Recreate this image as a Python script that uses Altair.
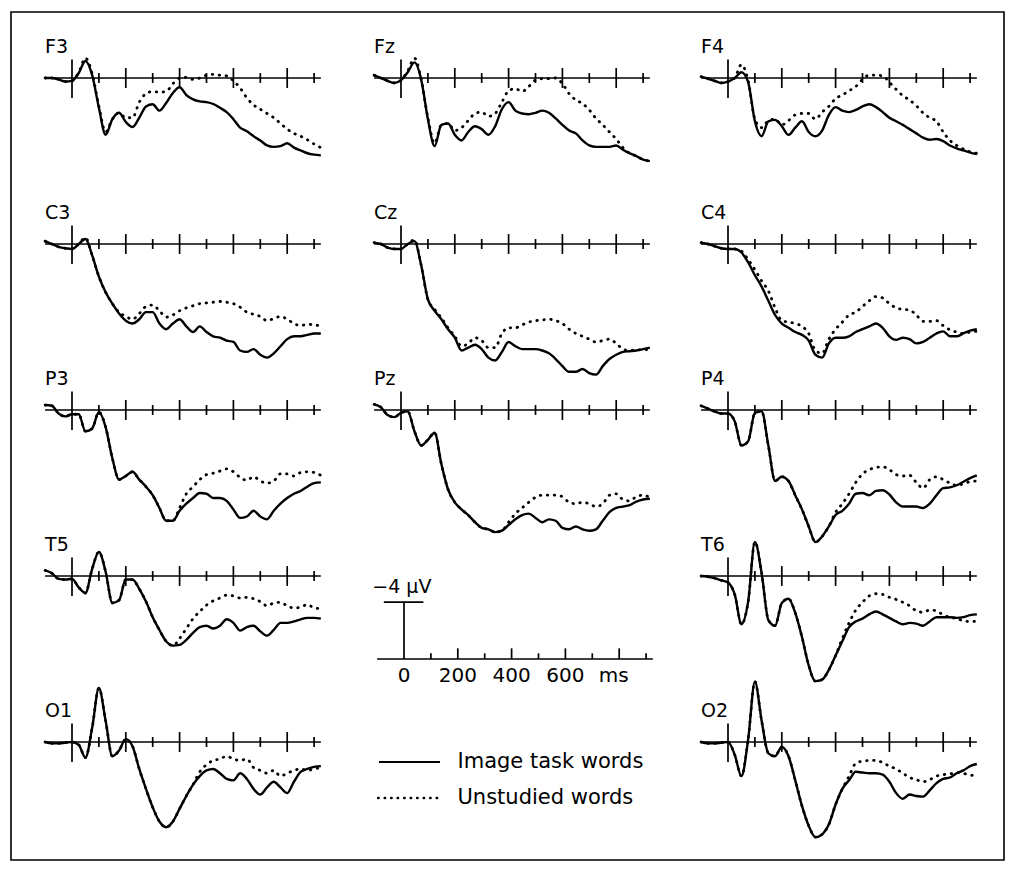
import altair as alt
import pandas as pd

# ---------------- data ----------------
# sampling times in ms, relative to word onset
T = [-100, -75, -50, -25, 0, 25, 50, 75, 100, 125, 150, 175, 200, 225, 250, 275,
     300, 325, 350, 375, 400, 425, 450, 475, 500, 525, 550, 575, 600, 625, 650,
     675, 700, 725, 750, 775, 800, 825, 850, 875, 900, 925]

# amplitude in microvolts (positive = downward, negative = upward, as in the figure)
IMAGE = {
    "F3": [0.0, 0.0, 0.1, 0.25, 0.2, -0.35, -1.2, -0.2, 2.1, 4.0, 2.9, 2.45, 3.1, 3.45, 2.8, 2.0,
           1.85, 2.3, 1.76, 1.05, 0.65, 1.2, 1.5, 1.65, 1.7, 1.83, 2.1, 2.4, 2.9, 3.5, 3.75,
           4.1, 4.4, 4.75, 4.85, 4.8, 4.6, 4.9, 5.1, 5.3, 5.4, 5.45],
    "Fz": [-0.2, 0.0, 0.2, 0.35, 0.15, -0.4, -1.1, 0.1, 2.9, 4.8, 3.3, 3.2, 4.0, 4.4, 3.8, 3.4,
           3.6, 4.0, 3.4, 2.2, 1.7, 2.3, 2.5, 2.55, 2.45, 2.3, 2.45, 2.85, 3.3, 3.7, 3.9,
           4.4, 4.75, 4.85, 4.85, 4.85, 4.75, 5.05, 5.3, 5.5, 5.75, 5.85],
    "F4": [-0.1, 0.05, 0.2, 0.35, 0.25, 0.0, -0.4, 0.3, 3.05, 4.1, 3.05, 2.95, 3.4, 4.0, 3.5, 3.05,
           3.8, 4.1, 3.7, 2.6, 2.05, 2.3, 2.4, 2.25, 2.0, 1.85, 2.05, 2.4, 2.8, 3.05, 3.3,
           3.6, 3.9, 4.2, 4.35, 4.3, 4.45, 4.75, 4.95, 5.1, 5.25, 5.35],
    "C3": [-0.2, 0.0, 0.2, 0.3, 0.35, 0.0, -0.35, 0.8, 2.3, 3.4, 4.2, 4.9, 5.4, 5.6, 5.3, 4.8,
           4.8, 5.6, 6.0, 5.6, 5.3, 5.8, 6.2, 5.8, 6.2, 6.5, 6.6, 6.8, 6.9, 7.5, 7.6,
           7.4, 7.8, 8.0, 7.7, 7.2, 6.7, 6.5, 6.5, 6.4, 6.3, 6.3],
    "Cz": [-0.1, 0.0, 0.25, 0.35, 0.35, 0.0, -0.2, 1.5, 3.9, 4.7, 5.3, 6.0, 6.6, 7.5, 7.3, 7.1,
           7.4, 8.0, 8.2, 7.6, 6.9, 7.2, 7.4, 7.4, 7.4, 7.5, 7.7, 8.1, 8.6, 9.0, 9.0,
           8.8, 9.1, 9.2, 8.6, 8.1, 7.8, 7.6, 7.55, 7.5, 7.4, 7.3],
    "C4": [-0.1, 0.0, 0.15, 0.3, 0.35, 0.35, 0.6, 1.3, 2.2, 3.0, 4.0, 5.0, 5.6, 5.9, 6.2, 6.4,
           6.8, 7.8, 8.0, 7.0, 6.6, 6.6, 6.5, 6.2, 6.0, 5.8, 5.6, 5.9, 6.5, 6.75, 6.6,
           6.7, 7.0, 6.9, 6.6, 6.3, 6.15, 6.5, 6.5, 6.3, 6.1, 6.0],
    "P3": [-0.35, -0.3, 0.25, 0.45, 0.3, 0.3, 1.5, 1.3, 0.15, 1.2, 3.4, 4.9, 4.65, 4.35, 4.9, 5.4,
           6.0, 6.9, 7.8, 7.8, 7.1, 6.6, 6.2, 5.85, 5.9, 6.2, 6.2, 6.4, 7.0, 7.6, 7.5,
           7.1, 7.5, 7.7, 7.1, 6.6, 6.2, 5.9, 5.7, 5.4, 5.15, 5.1],
    "Pz": [-0.4, -0.2, 0.35, 0.5, 0.2, 0.1, 1.5, 2.5, 2.1, 1.6, 3.8, 5.6, 6.5, 7.0, 7.4, 7.9,
           8.3, 8.4, 8.6, 8.5, 8.1, 7.7, 7.4, 7.3, 7.6, 7.9, 7.7, 7.8, 8.3, 8.4, 8.2,
           8.4, 8.5, 8.4, 7.8, 7.2, 6.9, 6.8, 6.7, 6.45, 6.3, 6.25],
    "P4": [-0.3, -0.1, 0.1, 0.25, 0.25, 0.8, 2.5, 2.2, 0.2, 0.1, 2.5, 5.0, 4.7, 5.0, 6.0, 7.0,
           8.2, 9.3, 8.9, 8.2, 7.4, 7.1, 6.6, 5.9, 5.85, 6.0, 5.7, 5.65, 5.95, 6.5, 6.8,
           6.8, 6.8, 6.9, 6.6, 6.0, 5.5, 5.45, 5.3, 5.05, 4.8, 4.6],
    "T5": [-0.4, -0.2, 0.2, 0.25, 0.2, 0.8, 1.2, -0.5, -1.7, -0.3, 1.9, 1.7, 0.25, 0.25, 0.9, 1.8,
           2.9, 3.8, 4.6, 4.9, 4.85, 4.5, 4.0, 3.6, 3.5, 3.7, 3.5, 3.05, 3.3, 3.85, 3.6,
           3.5, 3.9, 4.2, 3.8, 3.3, 3.3, 3.2, 3.05, 2.95, 2.95, 3.0],
    "T6": [0.0, 0.05, 0.15, 0.3, 0.45, 1.3, 3.4, 1.8, -2.4, -0.2, 3.1, 3.5, 1.9, 1.6, 2.6, 4.3,
           6.3, 7.4, 7.3, 6.6, 5.6, 4.6, 3.6, 3.2, 3.0, 2.7, 2.5, 2.7, 2.95, 3.2, 3.4,
           3.3, 3.35, 3.5, 3.2, 2.9, 2.9, 2.9, 2.95, 2.9, 2.75, 2.7],
    "O1": [0.0, 0.1, 0.1, 0.05, 0.0, 0.2, 1.1, -1.0, -3.8, -1.5, 1.0, 0.6, -0.2, 0.3, 1.9, 3.3,
           4.6, 5.6, 6.0, 5.6, 4.7, 3.8, 3.0, 2.4, 2.0, 1.9, 2.2, 2.6, 2.7, 2.2, 2.6,
           3.3, 3.7, 3.2, 2.8, 3.2, 3.6, 2.8, 2.1, 1.9, 1.75, 1.7],
    "O2": [0.0, 0.1, 0.1, 0.05, 0.0, 0.9, 2.4, -0.2, -4.25, -1.5, 0.8, 1.0, 0.35, 1.0, 2.7, 4.5,
           5.9, 6.7, 6.5, 5.8, 4.4, 3.3, 2.7, 2.1, 2.15, 2.2, 2.2, 2.3, 2.8, 3.6, 4.0,
           3.7, 3.8, 3.85, 3.4, 2.9, 2.6, 2.5, 2.2, 2.0, 1.7, 1.55],
}

UNSTUDIED = {
    "F3": [0.0, 0.0, 0.1, 0.25, 0.2, -0.4, -1.4, -0.3, 2.0, 3.8, 2.9, 2.45, 2.8, 2.8, 1.7, 1.1,
           0.95, 1.0, 0.95, 0.4, 0.0, -0.05, 0.1, 0.0, -0.2, -0.25, -0.2, -0.15, 0.2, 0.7, 1.4,
           1.9, 2.2, 2.5, 2.8, 3.2, 3.6, 3.9, 4.1, 4.35, 4.65, 4.9],
    "Fz": [-0.2, 0.0, 0.2, 0.35, 0.15, -0.5, -1.4, 0.1, 2.8, 4.6, 3.3, 3.2, 3.7, 3.5, 3.0, 2.5,
           2.4, 2.7, 2.5, 1.7, 0.9, 0.75, 0.95, 0.6, 0.15, 0.05, 0.05, 0.0, 0.4, 1.1, 1.55,
           1.8, 2.25, 2.85, 3.3, 3.8, 4.3, 4.9, 5.3, 5.5, 5.75, 5.85],
    "F4": [-0.1, 0.05, 0.2, 0.35, 0.25, 0.0, -0.95, 0.2, 2.9, 3.5, 3.0, 2.9, 3.3, 3.0, 2.6, 2.5,
           2.5, 2.9, 2.4, 2.0, 1.45, 1.2, 0.9, 0.6, 0.1, -0.2, -0.2, -0.15, 0.3, 0.8, 1.25,
           1.55, 1.95, 2.45, 2.8, 3.05, 3.8, 4.4, 4.75, 5.0, 5.2, 5.3],
    "C3": [-0.2, 0.0, 0.2, 0.3, 0.35, 0.0, -0.45, 0.8, 2.3, 3.4, 4.2, 4.8, 5.1, 5.3, 4.9, 4.4,
           4.3, 4.7, 5.15, 5.0, 4.7, 4.5, 4.35, 4.2, 4.15, 4.1, 4.05, 4.1, 4.2, 4.45, 4.8,
           4.95, 5.1, 5.4, 5.25, 5.1, 5.3, 5.6, 5.75, 5.65, 5.7, 5.75],
    "Cz": [-0.1, 0.0, 0.25, 0.35, 0.35, 0.0, -0.3, 1.5, 3.9, 4.6, 5.2, 5.9, 6.5, 7.2, 7.0, 6.6,
           6.8, 7.3, 7.3, 6.3, 5.9, 5.9, 5.7, 5.5, 5.4, 5.35, 5.3, 5.4, 5.6, 6.0, 6.3,
           6.5, 6.7, 6.9, 6.8, 6.7, 7.0, 7.4, 7.5, 7.45, 7.45, 7.4],
    "C4": [-0.1, 0.0, 0.15, 0.3, 0.35, 0.35, 0.5, 1.1, 1.8, 2.6, 3.3, 4.5, 5.4, 5.5, 5.6, 5.8,
           6.3, 7.5, 7.7, 6.7, 6.0, 5.5, 5.0, 4.8, 4.4, 4.0, 3.7, 3.8, 4.2, 4.5, 4.6,
           4.65, 5.0, 5.45, 5.45, 5.4, 5.75, 6.05, 6.2, 6.3, 6.2, 6.15],
    "P3": [-0.35, -0.3, 0.25, 0.45, 0.3, 0.3, 1.5, 1.3, 0.15, 1.2, 3.4, 4.9, 4.65, 4.35, 4.9, 5.4,
           6.0, 6.9, 7.8, 7.8, 6.9, 5.9, 5.4, 4.9, 4.55, 4.45, 4.3, 4.15, 4.35, 4.75, 4.95,
           4.7, 5.0, 5.15, 5.0, 4.5, 4.5, 4.65, 4.4, 4.35, 4.4, 4.6],
    "Pz": [-0.4, -0.2, 0.35, 0.5, 0.2, 0.1, 1.5, 2.5, 2.1, 1.6, 3.8, 5.6, 6.5, 7.0, 7.4, 7.9,
           8.3, 8.4, 8.6, 8.5, 7.9, 7.3, 6.9, 6.5, 6.15, 6.0, 6.0, 6.0, 6.1, 6.5, 6.6,
           6.5, 6.6, 6.8, 6.6, 6.0, 5.9, 6.3, 6.4, 6.1, 6.0, 6.15],
    "P4": [-0.3, -0.1, 0.1, 0.25, 0.25, 0.8, 2.5, 2.2, 0.2, 0.1, 2.5, 5.0, 4.7, 5.0, 6.0, 7.0,
           8.2, 9.3, 8.9, 8.2, 7.2, 6.6, 5.9, 5.1, 4.5, 4.2, 4.05, 4.0, 4.2, 4.55, 4.65,
           4.6, 5.1, 5.5, 4.9, 4.7, 4.9, 5.15, 5.3, 5.2, 5.05, 5.0],
    "T5": [-0.4, -0.2, 0.2, 0.25, 0.2, 0.8, 1.2, -0.5, -1.7, -0.3, 1.9, 1.7, 0.25, 0.25, 0.9, 1.8,
           2.9, 3.8, 4.6, 4.9, 4.4, 3.7, 3.0, 2.5, 2.05, 1.75, 1.55, 1.35, 1.4, 1.55, 1.5,
           1.6, 1.8, 2.1, 1.9, 1.85, 2.1, 2.25, 2.2, 2.0, 2.25, 2.3],
    "T6": [0.0, 0.05, 0.15, 0.3, 0.45, 1.3, 3.4, 1.8, -2.4, -0.2, 3.1, 3.5, 1.9, 1.6, 2.6, 4.3,
           6.3, 7.4, 7.3, 6.6, 5.6, 4.4, 3.3, 2.4, 1.85, 1.4, 1.25, 1.3, 1.5, 1.65, 1.85,
           2.1, 2.45, 2.55, 2.4, 2.45, 2.75, 2.9, 3.0, 3.15, 3.2, 3.2],
    "O1": [0.0, 0.1, 0.1, 0.05, 0.0, 0.2, 1.1, -1.0, -3.8, -1.5, 1.0, 0.6, -0.2, 0.3, 1.9, 3.3,
           4.6, 5.6, 6.0, 5.6, 4.7, 3.8, 3.0, 2.1, 1.6, 1.3, 1.2, 1.0, 1.2, 1.3, 1.2,
           1.8, 2.0, 2.2, 2.0, 2.4, 2.2, 2.0, 1.9, 2.0, 1.9, 1.8],
    "O2": [0.0, 0.1, 0.1, 0.05, 0.0, 0.9, 2.4, -0.2, -4.25, -1.5, 0.8, 1.0, 0.35, 1.0, 2.7, 4.5,
           5.9, 6.7, 6.5, 5.8, 4.4, 3.3, 2.4, 1.5, 1.35, 1.3, 1.3, 1.45, 1.7, 1.9, 2.2,
           2.5, 2.65, 2.8, 2.65, 2.4, 2.3, 2.25, 2.15, 2.2, 2.35, 2.3],
}

SERIES = ["Image task words", "Unstudied words"]
TICK_MS = [100, 200, 300, 400, 500, 600, 700, 800, 900]
MAJOR_TICK_MS = [200, 400, 600, 800]
SCALE_LABELS = ["0", "200", "400", "600", "ms"]
SCALE_LABEL_MS = [0, 200, 400, 600, 780]
SCALE_UV = -4
SCALE_TEXT = "\u22124 \u00b5V"

# ---------------- layout (pixels of the figure) ----------------
W, H = 993, 848            # plot area (the framed region)
LEFT, TOP = 11, 12
PX_PER_MS = 0.269
PX_PER_UV = 14.2
COL_ONSET_PX = [72, 401, 728]
ROW_BASE_PX = [78, 244, 410, 576, 742]
GRID = {"F3": (0, 0), "Fz": (1, 0), "F4": (2, 0),
        "C3": (0, 1), "Cz": (1, 1), "C4": (2, 1),
        "P3": (0, 2), "Pz": (1, 2), "P4": (2, 2),
        "T5": (0, 3), "T6": (2, 3),
        "O1": (0, 4), "O2": (2, 4)}
SCALE_ONSET_PX = 404
SCALE_BASE_PX = 659
LEGEND_ROW_PX = [762, 798]


def xo(px):
    return (px - LEFT) / PX_PER_MS


def yo(px):
    return (px - TOP) / PX_PER_UV


xs = alt.Scale(domain=[0, W / PX_PER_MS], nice=False, zero=False)
ys = alt.Scale(domain=[0, H / PX_PER_UV], nice=False, zero=False, reverse=True)

wave_rows, axis_rows, tick_rows, label_rows = [], [], [], []
for ch, (c, r) in GRID.items():
    ox, oy = xo(COL_ONSET_PX[c]), yo(ROW_BASE_PX[r])
    for s, src in zip(SERIES, (IMAGE, UNSTUDIED)):
        vals = src[ch]
        assert len(vals) == len(T)
        for t, v in zip(T, vals):
            wave_rows.append({"channel": ch, "series": s, "t": t, "X": t + ox, "Y": v + oy})
    axis_rows.append({"X1": -100 + ox, "X2": 925 + ox, "Y": oy})
    tick_rows.append({"X": ox, "Y1": oy - 1.3, "Y2": oy + 1.4})
    for tk in TICK_MS:
        h = 0.7 if tk in MAJOR_TICK_MS else 0.35
        tick_rows.append({"X": tk + ox, "Y1": oy - h, "Y2": oy + h})
    label_rows.append({"X": -100 + ox, "Y": oy - 1.75, "label": ch})

waves = pd.DataFrame(wave_rows)

# scale bar panel
sx, sy = xo(SCALE_ONSET_PX), yo(SCALE_BASE_PX)
axis_rows.append({"X1": -100 + sx, "X2": 925 + sx, "Y": sy})
axis_rows.append({"X1": -75 + sx, "X2": 72 + sx, "Y": sy + SCALE_UV})
tick_rows.append({"X": sx, "Y1": sy + SCALE_UV, "Y2": sy})
for tk in TICK_MS:
    h = 0.75 if tk in MAJOR_TICK_MS else 0.4
    tick_rows.append({"X": tk + sx, "Y1": sy - h, "Y2": sy})
scale_text = pd.DataFrame(
    [{"X": m + sx, "Y": sy + 1.6, "label": l} for m, l in zip(SCALE_LABEL_MS, SCALE_LABELS)]
)
uv_text = pd.DataFrame([{"X": -8 + sx, "Y": sy + SCALE_UV - 0.65, "label": SCALE_TEXT}])

# legend
lx = xo(COL_ONSET_PX[1])
leg_lines = pd.DataFrame([
    {"series": SERIES[0], "X1": -82 + lx, "X2": 145 + lx, "Y": yo(LEGEND_ROW_PX[0])},
    {"series": SERIES[1], "X1": -85 + lx, "X2": 150 + lx, "Y": yo(LEGEND_ROW_PX[1])},
])
leg_text = pd.DataFrame([
    {"X": 210 + lx, "Y": yo(LEGEND_ROW_PX[0]), "label": SERIES[0]},
    {"X": 210 + lx, "Y": yo(LEGEND_ROW_PX[1]), "label": SERIES[1]},
])

FONT = "DejaVu Sans"
X = lambda f: alt.X(f, scale=xs, axis=None)
Y = lambda f: alt.Y(f, scale=ys, axis=None)

solid = alt.Chart(waves[waves.series == SERIES[0]]).mark_line(
    color="black", strokeWidth=2.4, interpolate="monotone", strokeJoin="round"
).encode(x=X("X:Q"), y=Y("Y:Q"), detail="channel:N", order="t:Q")

dotted = alt.Chart(waves[waves.series == SERIES[1]]).mark_line(
    color="black", strokeWidth=2.8, interpolate="monotone", strokeDash=[0.5, 6.5], strokeCap="round"
).encode(x=X("X:Q"), y=Y("Y:Q"), detail="channel:N", order="t:Q")

axes = alt.Chart(pd.DataFrame(axis_rows)).mark_rule(color="black", strokeWidth=1.7).encode(
    x=X("X1:Q"), x2="X2:Q", y=Y("Y:Q"))
ticks = alt.Chart(pd.DataFrame(tick_rows)).mark_rule(color="black", strokeWidth=1.7).encode(
    x=X("X:Q"), y=Y("Y1:Q"), y2="Y2:Q")
labels = alt.Chart(pd.DataFrame(label_rows)).mark_text(
    align="left", baseline="alphabetic", fontSize=19, font=FONT, color="black"
).encode(x=X("X:Q"), y=Y("Y:Q"), text="label:N")
stext = alt.Chart(scale_text).mark_text(
    align="center", baseline="alphabetic", fontSize=20, font=FONT, color="black"
).encode(x=X("X:Q"), y=Y("Y:Q"), text="label:N")
utext = alt.Chart(uv_text).mark_text(
    align="center", baseline="alphabetic", fontSize=19, font=FONT, color="black"
).encode(x=X("X:Q"), y=Y("Y:Q"), text="label:N")

leg_solid = alt.Chart(leg_lines[leg_lines.series == SERIES[0]]).mark_rule(
    color="black", strokeWidth=2.0).encode(x=X("X1:Q"), x2="X2:Q", y=Y("Y:Q"))
leg_dot = alt.Chart(leg_lines[leg_lines.series == SERIES[1]]).mark_rule(
    color="black", strokeWidth=2.4, strokeDash=[0.5, 6.0], strokeCap="round"
).encode(x=X("X1:Q"), x2="X2:Q", y=Y("Y:Q"))
ltext = alt.Chart(leg_text).mark_text(
    align="left", baseline="middle", fontSize=21, font=FONT, color="black"
).encode(x=X("X:Q"), y=Y("Y:Q"), text="label:N")

chart = alt.layer(
    axes, ticks, solid, dotted, labels, stext, utext, leg_solid, leg_dot, ltext
).properties(
    width=W, height=H,
    padding={"left": LEFT, "top": TOP, "right": 1010 - LEFT - W, "bottom": 869 - TOP - H},
    autosize="none", background="white",
).configure_view(stroke="black", strokeWidth=1.6)

chart.save("out.html", embed_options={"renderer": "svg", "actions": False})
